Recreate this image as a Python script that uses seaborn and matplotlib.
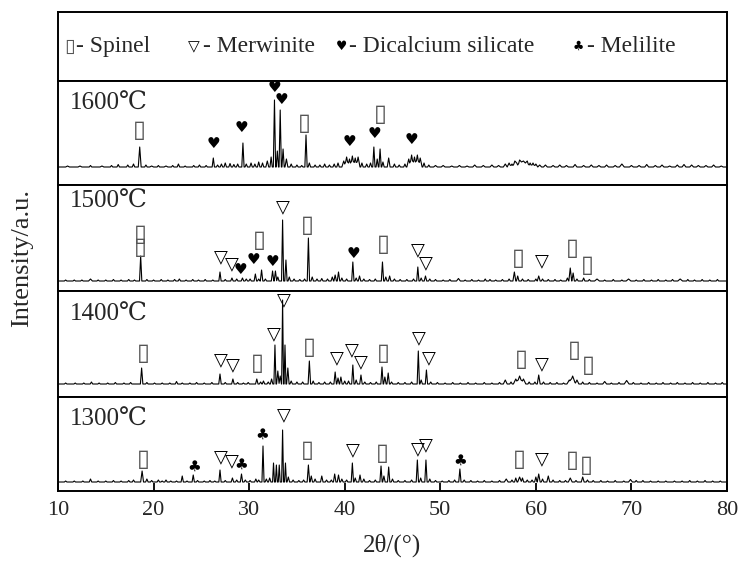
import matplotlib
matplotlib.use("Agg")
import matplotlib.pyplot as plt
import numpy as np
import pandas as pd
import seaborn as sns

# XRD patterns: (2theta, height above baseline[, half width])
temps = ["1600℃", "1500℃", "1400℃", "1300℃"]

peaks_1600 = [
    (11.0, 1, .2), (12.3, 1, .2), (13.4, 1.5), (14.6, 1, .2), (15.6, 1.5), (16.3, 2.5), (17.3, 2), (17.9, 3),
    (18.55, 20, .15), (19.2, 2), (19.8, 1, .2), (20.5, 1.5), (21.3, 1, .2), (22.0, 1.5), (22.6, 3), (23.3, 1),
    (24.2, 1.5), (24.8, 2), (25.5, 1.5), (26.25, 9, .12), (26.7, 2), (27.1, 3), (27.5, 4), (28.0, 3.5),
    (28.4, 2.5), (28.8, 3), (29.35, 24, .12), (29.7, 3), (30.2, 4), (30.6, 3), (31.0, 5), (31.4, 4),
    (31.9, 6, .15), (32.3, 10, .12), (32.65, 67, .12), (32.95, 16, .12), (33.25, 57, .12), (33.55, 18, .12),
    (33.9, 8, .15), (34.4, 3), (35.0, 2), (35.5, 1.5), (35.95, 32, .12), (36.3, 4), (36.9, 2), (37.4, 2),
    (37.9, 3), (38.4, 2), (38.9, 3), (39.3, 4), (39.9, 6, .2), (40.2, 10, .2), (40.5, 8, .2), (40.8, 11, .2),
    (41.1, 9, .2), (41.4, 10, .2), (41.8, 4), (42.3, 3), (42.7, 4), (43.05, 20, .12), (43.4, 8, .12),
    (43.7, 18, .12), (44.0, 5), (44.6, 9, .15), (45.2, 3), (45.7, 2), (46.3, 3), (46.7, 8, .2), (47.0, 12, .2),
    (47.3, 10, .2), (47.6, 12, .2), (47.9, 9, .2), (48.3, 4), (48.8, 2), (49.5, 1.5, .2), (50.3, 1.5, .2),
    (51.2, 1, .2), (52.0, 1.5, .2), (52.8, 1, .2), (53.6, 2, .2), (54.5, 1.5, .2), (55.4, 2, .2),
    (56.1, 1.5, .2), (56.8, 3, .2), (57.2, 4, .2), (57.5, 3, .2), (57.8, 6, .2), (58.0, 4, .2), (58.3, 7, .2),
    (58.5, 5, .2), (58.7, 6, .2), (58.9, 4, .2), (59.1, 6, .2), (59.4, 4, .2), (59.7, 4, .2), (60.0, 3, .2),
    (60.4, 2, .2), (61.0, 2, .2), (61.8, 1.5, .2), (62.5, 2, .2), (63.2, 1.5, .2), (64.1, 2.5, .2),
    (65.0, 1.5, .2), (65.8, 2, .2), (66.6, 1.5, .2), (67.4, 2, .2), (68.3, 1.5, .2), (69.0, 3, .25),
    (70.0, 1.5, .2), (70.8, 1.5, .2), (71.6, 2.5, .2), (72.5, 1.5, .2), (73.2, 2, .2), (74.0, 1, .2),
    (74.8, 2, .2), (75.5, 2.5, .2), (76.3, 2, .2), (77.0, 1.5, .2), (77.8, 1.5, .2), (78.6, 2, .2),
    (79.4, 1, .2),
]

peaks_1500 = [
    (10.8, 1), (11.7, 1), (12.5, 1), (13.4, 2, .2), (14.2, 1), (15.0, 1), (15.8, 1.5), (16.6, 1), (17.4, 1.5),
    (18.0, 1), (18.65, 25, .12), (19.3, 1.5), (20.0, 1), (20.8, 1.5), (21.5, 1), (22.2, 1.5), (22.7, 2),
    (23.4, 1), (24.1, 1.5), (24.7, 1), (25.4, 1.5), (26.2, 1), (26.95, 9, .12), (27.5, 1.5), (28.2, 3),
    (28.7, 2), (29.3, 3), (29.7, 2), (30.1, 2), (30.65, 7), (31.0, 2), (31.3, 11), (31.7, 2), (32.45, 10),
    (32.75, 10), (33.0, 4), (33.5, 61, .11), (33.85, 21, .12), (34.2, 4), (34.7, 2), (35.3, 1.5), (35.8, 2),
    (36.2, 43, .12), (36.6, 4), (37.1, 2), (37.6, 2.5), (38.2, 2), (38.7, 4), (39.0, 6), (39.35, 9),
    (39.7, 3), (40.2, 2), (40.85, 19, .12), (41.2, 3), (41.55, 5), (42.0, 2), (42.6, 1.5), (43.2, 2),
    (43.95, 19, .12), (44.3, 4), (44.7, 5), (45.2, 2), (45.8, 1.5), (46.5, 1.5), (47.2, 2), (47.65, 14, .12),
    (48.0, 3), (48.45, 5), (48.9, 2), (49.5, 1.5), (50.3, 1), (51.0, 1.5), (51.9, 2.5, .2), (52.6, 1),
    (53.3, 1.5), (54.0, 1), (54.7, 2), (55.2, 1.5), (55.8, 1), (56.5, 1.5), (57.2, 2), (57.75, 9, .15),
    (58.1, 5), (58.6, 2), (59.2, 1.5), (60.0, 2), (60.3, 5, .15), (60.7, 2), (61.3, 1.5), (62.0, 1.5),
    (62.6, 1), (63.3, 3), (63.6, 13, .15), (63.9, 8), (64.3, 2), (65.0, 3), (65.6, 1.5), (66.4, 2, .25),
    (67.2, 1), (68.1, 1.5), (69.0, 1), (69.7, 2, .25), (70.5, 1), (71.3, 1.5), (72.1, 1), (72.8, 1.5),
    (73.6, 1), (74.3, 1.5), (75.1, 2, .25), (75.9, 1.5), (76.6, 1), (77.4, 1.5), (78.2, 1), (79.0, 1.5),
]

peaks_1400 = [
    (10.8, 1), (11.8, 1), (12.7, 1), (13.5, 2), (14.3, 1), (15.2, 1), (16.0, 1.5), (16.9, 1), (17.6, 1.5),
    (18.75, 16, .13), (19.3, 1.5), (20.1, 1), (20.9, 1), (21.7, 1), (22.4, 2.5), (23.0, 1), (23.8, 1),
    (24.5, 1.5), (25.3, 1), (26.1, 1.5), (26.95, 10), (27.5, 1.5), (28.3, 5), (28.8, 1.5), (29.4, 1),
    (29.9, 1.5), (30.8, 5), (31.2, 2), (31.5, 3), (32.0, 2), (32.35, 5), (32.7, 39, .11), (33.0, 13),
    (33.25, 8), (33.5, 84, .1), (33.75, 39, .1), (34.05, 16), (34.4, 3), (35.0, 2), (35.6, 2),
    (36.3, 23, .13), (36.7, 3), (37.3, 1.5), (37.9, 2), (38.5, 2), (39.0, 12), (39.3, 6), (39.6, 7),
    (40.0, 3), (40.4, 3), (40.85, 19, .12), (41.2, 4), (41.7, 9), (42.1, 2), (42.7, 1.5), (43.3, 2),
    (43.9, 17, .12), (44.2, 7), (44.55, 11), (44.9, 2), (45.6, 1.5), (46.3, 1.5), (47.0, 2), (47.7, 33, .12),
    (48.0, 4), (48.55, 14, .12), (49.0, 2), (49.7, 1.5), (50.5, 1), (51.3, 1.5), (52.1, 1), (52.9, 1.5),
    (53.7, 1), (54.6, 1.5), (55.4, 1), (56.2, 1.5), (56.8, 4, .2), (57.4, 2), (57.9, 5, .25), (58.3, 8, .3),
    (58.7, 5, .25), (59.3, 2), (59.9, 2), (60.3, 9, .15), (60.8, 2), (61.5, 1.5), (62.2, 1.5), (62.9, 1),
    (63.5, 4, .25), (63.85, 8, .3), (64.3, 4, .2), (64.9, 2), (65.6, 1.5), (66.4, 1), (67.2, 2.5, .2),
    (67.9, 1), (68.7, 1.5), (69.5, 3.5, .25), (70.2, 1.5), (71.0, 1), (71.8, 1.5), (72.6, 1), (73.3, 1.5),
    (74.1, 1), (74.8, 1.5), (75.6, 1), (76.4, 1.5), (77.2, 1), (78.0, 1.5), (78.8, 1), (79.5, 1.5),
]

peaks_1300 = [
    (10.8, 1), (11.7, 1), (12.6, 1), (13.4, 3), (14.2, 1), (15.0, 1), (15.8, 1.5), (16.6, 1), (17.4, 1.5),
    (17.9, 2), (18.8, 11, .15), (19.3, 3), (19.8, 1.5), (20.5, 2), (20.9, 1), (21.3, 2), (21.8, 1), (22.4, 1),
    (23.0, 6, .12), (23.5, 1), (24.15, 7, .12), (24.6, 1.5), (25.3, 1), (25.9, 1.5), (26.4, 1),
    (26.95, 12, .12), (27.5, 1.5), (28.25, 4), (28.7, 2), (29.2, 8, .12), (29.6, 2), (30.1, 1.5), (30.7, 3),
    (31.0, 2), (31.45, 36, .11), (31.8, 3), (32.15, 4), (32.55, 19, .1), (32.85, 17, .1), (33.15, 17, .1),
    (33.5, 52, .1), (33.8, 19, .1), (34.1, 5), (34.6, 2), (35.2, 1.5), (35.7, 2), (36.2, 17, .13), (36.5, 6),
    (36.9, 3), (37.6, 6), (38.1, 2), (38.6, 2), (38.95, 8), (39.35, 7), (39.7, 3), (40.2, 2), (40.8, 19, .12),
    (41.1, 4), (41.6, 7), (42.0, 3), (42.6, 1.5), (43.2, 2), (43.8, 16, .12), (44.1, 6), (44.6, 15, .12),
    (45.0, 3), (45.6, 1.5), (46.3, 1.5), (47.0, 2), (47.6, 22, .12), (47.95, 4), (48.5, 22, .12), (48.9, 3),
    (49.5, 1.5), (50.2, 1), (50.9, 1.5), (51.5, 2), (52.05, 13, .12), (52.5, 2), (53.2, 1.5), (53.9, 1),
    (54.6, 1.5), (55.4, 1), (56.2, 1.5), (56.9, 3, .2), (57.5, 2), (57.9, 4), (58.3, 5, .2), (58.6, 4),
    (59.1, 2), (59.6, 2), (60.0, 5), (60.3, 8, .15), (60.7, 3), (61.3, 6, .15), (61.8, 2), (62.5, 1.5),
    (63.1, 1.5), (63.6, 4, .2), (64.2, 1.5), (64.9, 5, .15), (65.4, 2), (66.0, 1.5), (66.8, 1.5), (67.5, 1),
    (68.3, 1.5), (69.2, 1), (69.9, 2.5, .2), (70.5, 1.5), (71.2, 1.5), (72.0, 1), (72.8, 1), (73.6, 1),
    (74.5, 1), (75.3, 1), (76.1, 1.5), (76.9, 1), (77.7, 1.5), (78.5, 1), (79.3, 1),
]

# phase markers: (phase, 2theta, height above baseline)
# s = spinel, v = merwinite, h = dicalcium silicate, c = melilite
marks_1600 = [("s", 18.5, 37), ("h", 26.3, 23), ("h", 29.2, 39), ("h", 32.6, 80), ("h", 33.4, 67),
              ("s", 35.8, 44), ("h", 40.5, 26), ("h", 43.1, 33), ("s", 43.7, 53), ("h", 47.0, 27)]
marks_1500 = [("s", 18.6, 47), ("s", 18.6, 34), ("v", 27.0, 24), ("v", 28.2, 17), ("h", 29.1, 11),
              ("h", 30.5, 22), ("s", 31.1, 41), ("h", 32.4, 19), ("v", 33.5, 74), ("s", 36.1, 56),
              ("h", 40.9, 27), ("s", 44.0, 37), ("v", 47.7, 31), ("v", 48.5, 18), ("s", 58.2, 23),
              ("v", 60.6, 20), ("s", 63.8, 33), ("s", 65.4, 16)]
marks_1400 = [("s", 18.9, 31), ("v", 27.0, 24), ("v", 28.3, 19), ("s", 30.9, 21), ("v", 32.6, 50),
              ("v", 33.6, 84), ("s", 36.3, 37), ("v", 39.2, 26), ("v", 40.8, 34), ("v", 41.7, 22),
              ("s", 44.0, 31), ("v", 47.8, 46), ("v", 48.8, 26), ("s", 58.5, 25), ("v", 60.6, 20),
              ("s", 64.0, 34), ("s", 65.5, 19)]
marks_1300 = [("s", 18.9, 23), ("c", 24.2, 16), ("v", 27.0, 25), ("v", 28.2, 21), ("c", 29.2, 18),
              ("c", 31.4, 48), ("v", 33.6, 67), ("s", 36.1, 32), ("v", 40.9, 32), ("s", 43.9, 29),
              ("v", 47.7, 33), ("v", 48.5, 37), ("c", 52.1, 22), ("s", 58.3, 23), ("v", 60.6, 23),
              ("s", 63.8, 22), ("s", 65.3, 17)]

legend_phases = ["s", "v", "h", "c"]
legend_names = ["Spinel", "Merwinite", "Dicalcium silicate", "Melilite"]
x_ticks = [10, 20, 30, 40, 50, 60, 70, 80]

glyphs = {"s": "▯", "v": "▽", "h": "♥", "c": "♣"}
glyph_size = {"s": 17, "v": 13, "h": 11, "c": 11}
glyph_color = {"s": "#555555", "v": "black", "h": "black", "c": "black"}


def profile(peaks, w0=0.13):
    pos = np.array([p[0] for p in peaks])
    hgt = np.array([p[1] for p in peaks])
    wid = np.array([p[2] if len(p) > 2 else w0 for p in peaks])
    xs = np.unique(np.concatenate([[10.0, 80.0], pos, pos - wid, pos + wid]))
    tri = 1 - np.abs(xs[:, None] - pos[None, :]) / wid[None, :]
    ys = np.max(hgt[None, :] * np.clip(tri, 0, None), axis=1)
    return pd.DataFrame({"two_theta": xs, "intensity": ys})


sns.set_style("white")
plt.rcParams["font.family"] = ["Liberation Serif", "DejaVu Serif"]
plt.rcParams["axes.linewidth"] = 1.4

fig = plt.figure(figsize=(7.41, 5.69), dpi=100)
gs = fig.add_gridspec(5, 1, height_ratios=[69, 104, 106, 106, 94],
                      left=58 / 741, right=727 / 741, top=1 - 12 / 569, bottom=1 - 491 / 569, hspace=0)

# legend strip
ax_leg = fig.add_subplot(gs[0])
ax_leg.set_xlim(0, 1)
ax_leg.set_ylim(0, 1)
ax_leg.set_xticks([])
ax_leg.set_yticks([])
for sp in ax_leg.spines.values():
    sp.set_color("black")
leg_glyph_x = [0.018, 0.203, 0.424, 0.778]
leg_text_x = [0.027, 0.216, 0.435, 0.790]
leg_size = {"s": 14, "v": 11, "h": 9, "c": 9}
for ph, name, gx, tx in zip(legend_phases, legend_names, leg_glyph_x, leg_text_x):
    ax_leg.text(gx, 0.5, glyphs[ph], family="DejaVu Sans", fontsize=leg_size[ph],
                color=glyph_color[ph], ha="center", va="center")
    ax_leg.text(tx, 0.5, "- " + name, fontsize=17, ha="left", va="center")

panels = [(peaks_1600, marks_1600, (-18, 86), -23),
          (peaks_1500, marks_1500, (-10, 96), -17),
          (peaks_1400, marks_1400, (-13, 93), -24),
          (peaks_1300, marks_1300, (-9, 85), -23)]

for i, (peaks, marks, ylim, ty) in enumerate(panels):
    ax = fig.add_subplot(gs[i + 1])
    df = profile(peaks)
    sns.lineplot(data=df, x="two_theta", y="intensity", ax=ax, color="black",
                 linewidth=0.8, estimator=None)
    for ph, mx, my in marks:
        ax.text(mx, my, glyphs[ph], family="DejaVu Sans", fontsize=glyph_size[ph],
                color=glyph_color[ph], ha="center", va="center")
    ax.annotate(temps[i], xy=(0, 1), xycoords="axes fraction", xytext=(12, ty),
                textcoords="offset pixels", fontsize=18, ha="left", va="center")
    ax.set_xlim(10, 80)
    ax.set_ylim(*ylim)
    ax.set_xlabel("")
    ax.set_ylabel("")
    ax.set_yticks([])
    for sp in ax.spines.values():
        sp.set_color("black")
    if i < 3:
        ax.set_xticks([])
    else:
        ax.set_xticks(x_ticks)
        ax.set_xticklabels([str(t) for t in x_ticks])
        ax.tick_params(axis="x", direction="in", length=6, width=1.3, pad=7,
                       labelsize=16, bottom=True, top=False, color="black")
        ax.set_xlabel("2θ/(°)", fontsize=18, labelpad=10)

fig.text(22 / 741, 1 - 258 / 569, "Intensity/a.u.", rotation=90, fontsize=19,
         ha="center", va="center")

fig.savefig("out.png", dpi=100, facecolor="white")
plt.close(fig)
